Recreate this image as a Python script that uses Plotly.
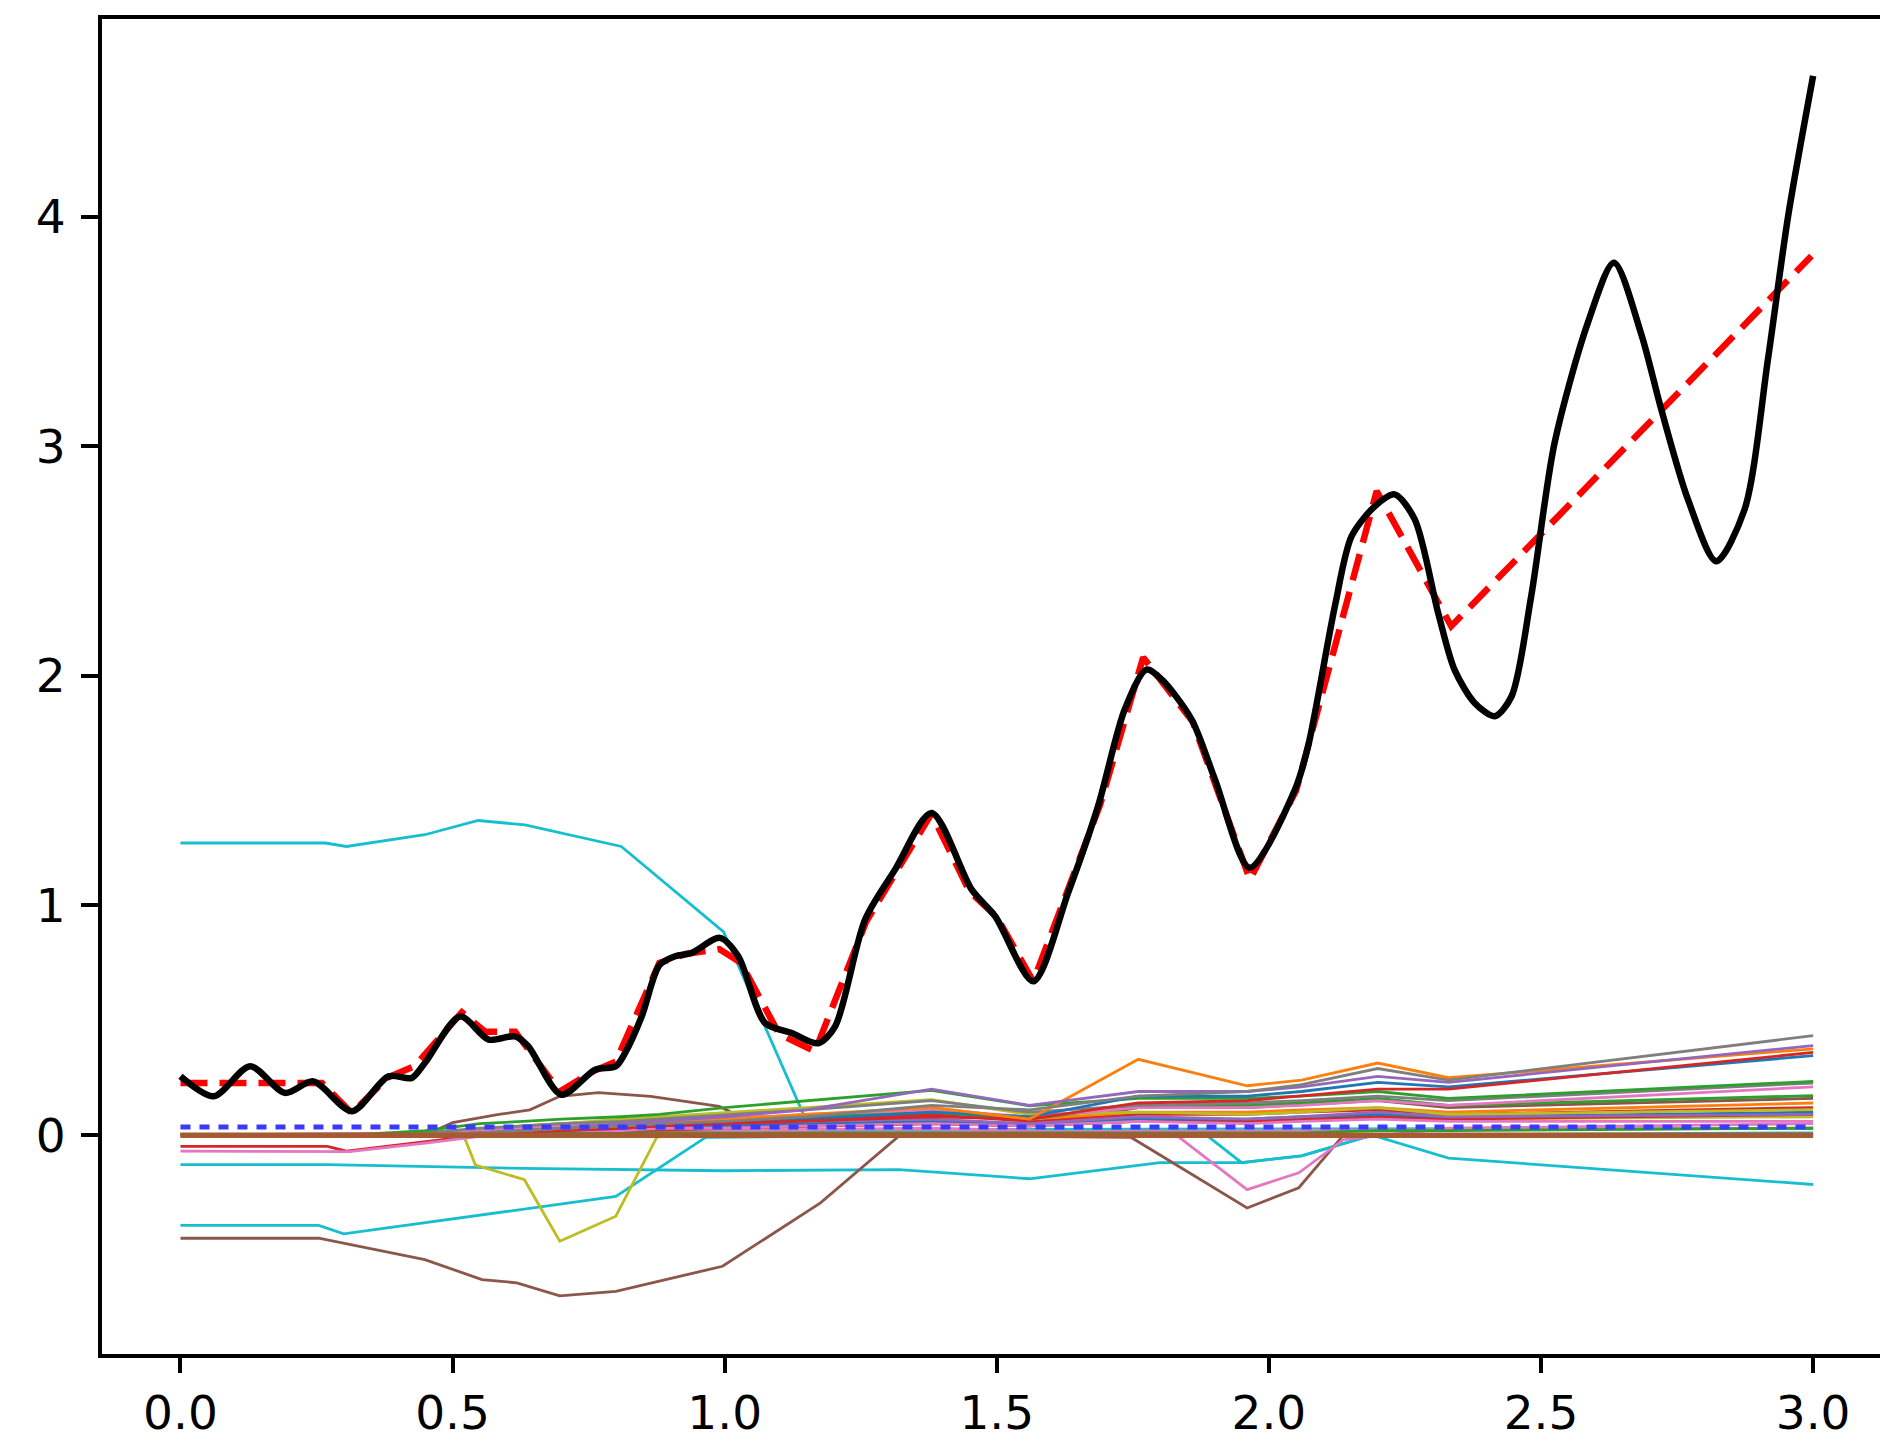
import plotly.graph_objects as go

# ---------------------------------------------------------------------------
# Target curve (smooth) and fitted piecewise-linear model
# ---------------------------------------------------------------------------
target_x = [0.0, 0.061, 0.128, 0.192, 0.244, 0.315, 0.382, 0.425, 0.449, 0.514,
            0.566, 0.615, 0.639, 0.70, 0.762, 0.80, 0.817, 0.848, 0.88, 0.909,
            0.939, 0.991, 1.025, 1.074, 1.123, 1.172, 1.203, 1.258, 1.313, 1.380,
            1.454, 1.497, 1.567, 1.631, 1.686, 1.735, 1.775, 1.803, 1.858, 1.901,
            1.965, 2.048, 2.072, 2.121, 2.152, 2.195, 2.231, 2.268, 2.311, 2.341,
            2.378, 2.415, 2.446, 2.482, 2.525, 2.586, 2.634, 2.684, 2.721, 2.77,
            2.822, 2.874, 2.917, 2.954, 3.0]
target_y = [0.256, 0.169, 0.30, 0.184, 0.234, 0.104, 0.256, 0.249, 0.314, 0.517,
            0.416, 0.43, 0.387, 0.176, 0.285, 0.30, 0.358, 0.52, 0.74, 0.779,
            0.793, 0.859, 0.779, 0.489, 0.445, 0.40, 0.474, 0.939, 1.156, 1.403,
            1.069, 0.953, 0.67, 1.055, 1.432, 1.853, 2.027, 1.984, 1.81, 1.548,
            1.164, 1.505, 1.693, 2.30, 2.608, 2.739, 2.79, 2.681, 2.274, 2.027,
            1.882, 1.824, 1.911, 2.347, 3.015, 3.537, 3.799, 3.49, 3.16, 2.768,
            2.499, 2.724, 3.378, 4.00, 4.612]

model_x = [0.0, 0.26, 0.315, 0.38, 0.43, 0.517, 0.56, 0.615, 0.697, 0.76,
           0.80, 0.88, 0.93, 0.99, 1.03, 1.10, 1.166, 1.26, 1.38, 1.45,
           1.50, 1.567, 1.69, 1.769, 1.86, 1.965, 2.05, 2.198, 2.335, 2.997]
model_y = [0.227, 0.227, 0.095, 0.25, 0.30, 0.535, 0.45, 0.45, 0.19, 0.28,
           0.32, 0.75, 0.79, 0.81, 0.75, 0.44, 0.365, 0.93, 1.40, 1.06,
           0.95, 0.67, 1.44, 2.08, 1.80, 1.113, 1.50, 2.804, 2.216, 3.828]

# constant reference level and the all-zero (dead) unit
level_x = [0.0, 3.0]
level_y = [0.035, 0.035]
dead_unit_y = [0.0, 0.0]

# ---------------------------------------------------------------------------
# Individual unit contributions sampled on a shared grid
# ---------------------------------------------------------------------------
grid_x = [0.0, 0.27, 0.31, 0.45, 0.55, 0.63, 0.70, 0.81, 0.88, 1.0,
          1.15, 1.38, 1.56, 1.76, 1.96, 2.06, 2.2, 2.33, 3.0]

unit_gray_hi   = [0, 0, 0, 0, 0.01, 0.02, 0.03, 0.04, 0.05, 0.06, 0.08, 0.13, 0.11, 0.17, 0.19, 0.22, 0.29, 0.24, 0.433]
unit_purple_hi = [0, 0, 0, 0, 0.01, 0.02, 0.03, 0.05, 0.06, 0.08, 0.11, 0.20, 0.13, 0.19, 0.19, 0.21, 0.256, 0.23, 0.39]
unit_orange_hi = [0, 0, 0, 0, 0.01, 0.02, 0.03, 0.04, 0.05, 0.07, 0.09, 0.12, 0.07, 0.33, 0.215, 0.24, 0.314, 0.25, 0.376]
unit_red_hi    = [0, 0, 0, 0, 0.01, 0.01, 0.02, 0.03, 0.04, 0.05, 0.06, 0.08, 0.07, 0.14, 0.15, 0.17, 0.20, 0.20, 0.36]
unit_blue_hi   = [0, 0, 0, 0, 0.01, 0.01, 0.02, 0.03, 0.04, 0.05, 0.07, 0.10, 0.08, 0.17, 0.17, 0.19, 0.23, 0.21, 0.346]
unit_green_a   = [0, 0, 0, 0.02, 0.05, 0.06, 0.07, 0.08, 0.09, 0.12, 0.15, 0.195, 0.128, 0.16, 0.16, 0.17, 0.19, 0.16, 0.234]
unit_gray_b    = [0, 0, 0, 0.01, 0.03, 0.04, 0.05, 0.06, 0.07, 0.09, 0.11, 0.15, 0.10, 0.13, 0.14, 0.15, 0.17, 0.15, 0.227]
unit_pink_a    = [0, 0, 0, 0.01, 0.02, 0.03, 0.04, 0.05, 0.06, 0.07, 0.09, 0.11, 0.08, 0.12, 0.12, 0.13, 0.15, 0.13, 0.21]
unit_green_b   = [0, 0, 0, 0, 0.02, 0.03, 0.04, 0.05, 0.06, 0.07, 0.08, 0.10, 0.07, 0.13, 0.13, 0.14, 0.16, 0.13, 0.172]
unit_olive_a   = [0, 0, 0, 0.01, 0.02, 0.04, 0.05, 0.07, 0.08, 0.10, 0.12, 0.155, 0.09, 0.10, 0.09, 0.10, 0.12, 0.09, 0.111]
unit_purple_b  = [0, 0, 0, 0, 0.01, 0.02, 0.03, 0.04, 0.04, 0.05, 0.06, 0.07, 0.05, 0.08, 0.07, 0.08, 0.10, 0.08, 0.09]
unit_pink_b    = [0, 0, 0, 0, 0.01, 0.01, 0.02, 0.02, 0.03, 0.03, 0.04, 0.05, 0.04, 0.06, 0.05, 0.06, 0.07, 0.06, 0.06]
unit_orange_b  = [0, 0, 0, 0.01, 0.02, 0.04, 0.05, 0.06, 0.07, 0.08, 0.08, 0.12, 0.07, 0.10, 0.10, 0.11, 0.12, 0.10, 0.14]
unit_red_b     = [0, 0, 0, 0, 0.01, 0.02, 0.03, 0.04, 0.05, 0.06, 0.07, 0.09, 0.06, 0.09, 0.09, 0.10, 0.11, 0.09, 0.12]
unit_blue_b    = [0, 0, 0, 0, 0.01, 0.01, 0.02, 0.03, 0.03, 0.04, 0.05, 0.06, 0.05, 0.07, 0.07, 0.08, 0.09, 0.08, 0.10]
unit_green_c   = [0, 0, 0, 0, 0.005, 0.005, 0.01, 0.01, 0.01, 0.01, 0.01, 0.01, 0.01, 0.01, 0.01, 0.01, 0.02, 0.02, 0.03]

# units with their own breakpoints
brown_arc_x = [0.0, 0.45, 0.50, 0.585, 0.642, 0.697, 0.768, 0.864, 0.99, 1.04, 1.15, 1.38, 1.56, 1.76, 1.96, 2.2, 2.33, 3.0]
brown_arc_y = [0, 0, 0.055, 0.09, 0.11, 0.169, 0.185, 0.169, 0.125, 0.067, 0.04, 0.05, 0.04, 0.12, 0.12, 0.15, 0.12, 0.16]

cyan_top_x = [0.0, 0.266, 0.305, 0.449, 0.547, 0.633, 0.81, 0.998, 1.157, 3.0]
cyan_top_y = [1.272, 1.272, 1.257, 1.308, 1.37, 1.351, 1.257, 0.885, 0.024, 0.03]

cyan_mid_x = [0.0, 0.27, 0.63, 1.0, 1.32, 1.56, 1.80, 1.95, 2.06, 2.19, 2.33, 3.0]
cyan_mid_y = [-0.128, -0.128, -0.145, -0.155, -0.15, -0.19, -0.12, -0.12, -0.09, 0.0, -0.10, -0.215]

cyan_low_x = [0.0, 0.254, 0.30, 0.80, 0.965, 1.88, 1.95, 2.06, 2.19, 3.0]
cyan_low_y = [-0.393, -0.393, -0.43, -0.267, -0.01, 0.01, -0.12, -0.09, 0.0, 0.01]

brown_low_x = [0.0, 0.254, 0.449, 0.554, 0.618, 0.697, 0.80, 0.996, 1.176, 1.322, 1.747, 1.96, 2.055, 2.137, 3.0]
brown_low_y = [-0.449, -0.449, -0.542, -0.629, -0.643, -0.70, -0.68, -0.571, -0.295, 0.0, -0.01, -0.317, -0.229, 0.0, 0.0]

olive_dip_x = [0.0, 0.52, 0.542, 0.632, 0.697, 0.80, 0.875, 1.0, 1.38, 1.56, 1.76, 1.96, 2.2, 2.33, 3.0]
olive_dip_y = [0.0, 0.0, -0.13, -0.194, -0.462, -0.353, -0.01, 0.03, 0.06, 0.04, 0.06, 0.06, 0.08, 0.07, 0.08]

pink_dip_x = [0.0, 1.0, 1.38, 1.56, 1.83, 1.96, 2.055, 2.137, 2.33, 3.0]
pink_dip_y = [0.0, 0.02, 0.03, 0.02, 0.0, -0.237, -0.164, -0.02, 0.03, 0.05]

red_neg_x = [0.0, 0.27, 0.305, 0.45, 0.55, 1.0, 1.38, 1.56, 1.76, 1.96, 2.2, 2.33, 3.0]
red_neg_y = [-0.049, -0.049, -0.07, -0.03, 0.0, 0.03, 0.05, 0.04, 0.06, 0.06, 0.08, 0.07, 0.09]

pink_neg_x = [0.0, 0.27, 0.31, 0.45, 0.55, 1.0, 3.0]
pink_neg_y = [-0.07, -0.07, -0.072, -0.035, -0.005, 0.01, 0.03]

# tab10 palette
BLUE, ORANGE, GREEN, RED, PURPLE = "#1f77b4", "#ff7f0e", "#2ca02c", "#d62728", "#9467bd"
BROWN, PINK, GRAY, OLIVE, CYAN = "#8c564b", "#e377c2", "#7f7f7f", "#bcbd22", "#17becf"

grid_units = [
    (unit_green_c, GREEN), (unit_blue_b, BLUE), (unit_red_b, RED), (unit_orange_b, ORANGE),
    (unit_pink_b, PINK), (unit_purple_b, PURPLE), (unit_olive_a, OLIVE), (unit_green_b, GREEN),
    (unit_pink_a, PINK), (unit_gray_b, GRAY), (unit_green_a, GREEN), (unit_blue_hi, BLUE),
    (unit_red_hi, RED), (unit_orange_hi, ORANGE), (unit_purple_hi, PURPLE), (unit_gray_hi, GRAY),
]
own_units = [
    (brown_arc_x, brown_arc_y, BROWN), (cyan_top_x, cyan_top_y, CYAN),
    (cyan_mid_x, cyan_mid_y, CYAN), (cyan_low_x, cyan_low_y, CYAN),
    (brown_low_x, brown_low_y, BROWN), (olive_dip_x, olive_dip_y, OLIVE),
    (pink_dip_x, pink_dip_y, PINK), (red_neg_x, red_neg_y, RED),
    (pink_neg_x, pink_neg_y, PINK),
]

fig = go.Figure()
THIN = 2.8

for xs, ys, col in own_units:
    fig.add_trace(go.Scatter(x=xs, y=ys, mode="lines",
                             line=dict(color=col, width=THIN), hoverinfo="skip"))
for ys, col in grid_units:
    fig.add_trace(go.Scatter(x=grid_x, y=ys, mode="lines",
                             line=dict(color=col, width=THIN), hoverinfo="skip"))

# dead unit along zero
fig.add_trace(go.Scatter(x=level_x, y=dead_unit_y, mode="lines",
                         line=dict(color="#a55a32", width=5.5), hoverinfo="skip"))
# constant level (dotted blue)
fig.add_trace(go.Scatter(x=level_x, y=level_y, mode="lines",
                         line=dict(color="#3a3aff", width=5, dash="10px,9px"),
                         hoverinfo="skip"))
# model output (red dashed)
fig.add_trace(go.Scatter(x=model_x, y=model_y, mode="lines",
                         line=dict(color="#ff0000", width=6.5, dash="27px,12px"),
                         hoverinfo="skip"))
# target function (black)
fig.add_trace(go.Scatter(x=target_x, y=target_y, mode="lines",
                         line=dict(color="black", width=6.5, shape="spline", smoothing=0.8),
                         hoverinfo="skip"))

tick_font = dict(family="DejaVu Sans", size=47, color="black")

fig.update_layout(
    width=1880, height=1441,
    margin=dict(l=102, r=0, t=19, b=87, pad=0, autoexpand=False),
    paper_bgcolor="white", plot_bgcolor="white",
    showlegend=False,
    xaxis=dict(
        range=[-0.1442, 3.1229], automargin=False,
        tickvals=[0, 0.5, 1.0, 1.5, 2.0, 2.5, 3.0],
        ticktext=["0.0", "0.5", "1.0", "1.5", "2.0", "2.5", "3.0"],
        ticks="outside", ticklen=15, tickwidth=4, tickcolor="black",
        showline=True, linewidth=4, linecolor="black", mirror=True,
        showgrid=False, zeroline=False, tickfont=tick_font,
    ),
    yaxis=dict(
        range=[-0.953, 4.860], automargin=False,
        tickvals=[0, 1, 2, 3, 4],
        ticktext=["0", "1", "2", "3", "4"],
        ticks="outside", ticklen=17, tickwidth=4, tickcolor="black",
        showline=True, linewidth=4, linecolor="black", mirror=False,
        showgrid=False, zeroline=False, tickfont=tick_font,
        ticklabelstandoff=6,
    ),
)

fig.write_html("out.html")
